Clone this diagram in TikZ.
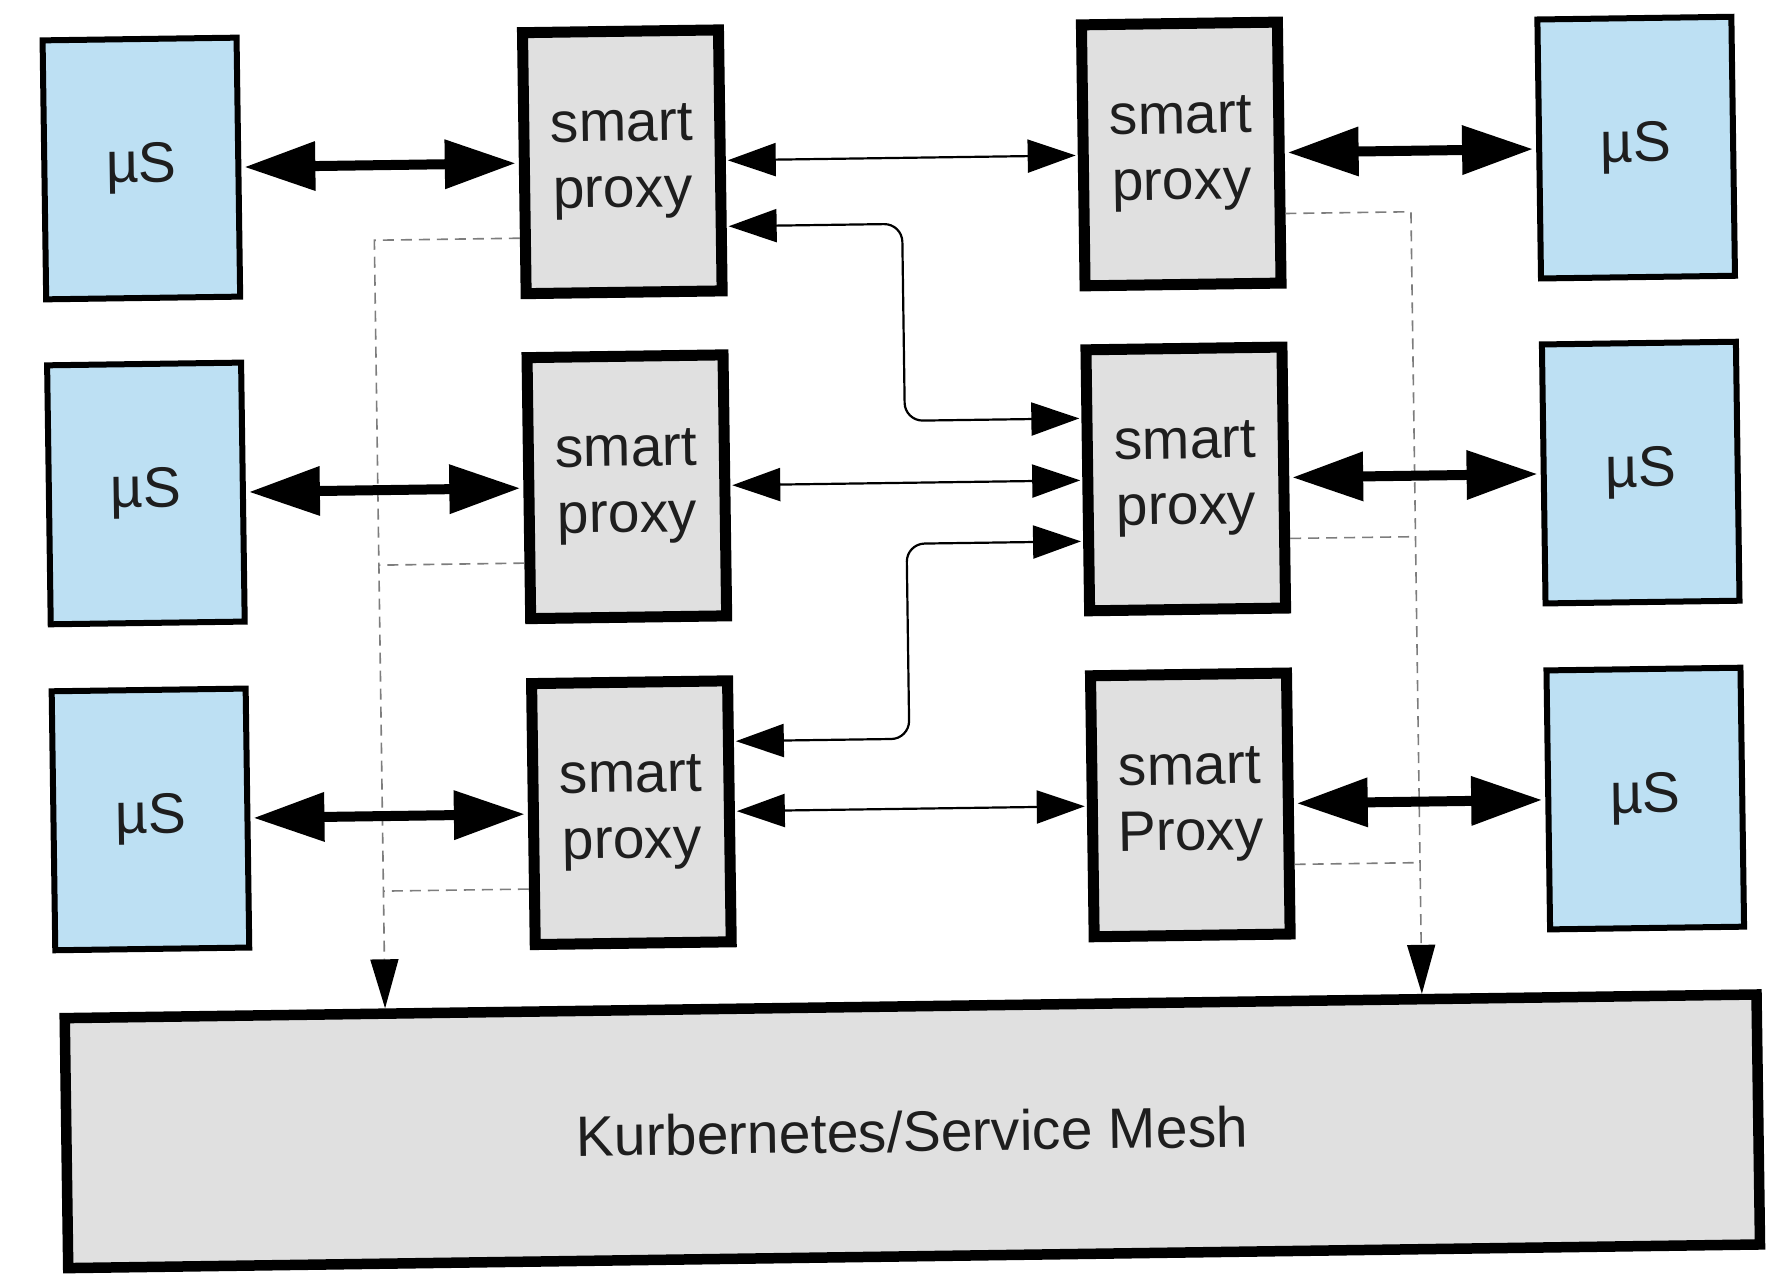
\documentclass[tikz,border=0pt]{standalone}
\usepackage{fontspec}
\setmainfont{Liberation Sans}
\usetikzlibrary{arrows.meta}
\definecolor{msblue}{RGB}{189,224,243}
\definecolor{pgray}{RGB}{224,224,224}
\definecolor{dgray}{RGB}{125,125,125}
\definecolor{txt}{RGB}{30,30,30}
\newcommand\bigfont{\fontsize{57pt}{66pt}\selectfont}
\begin{document}
\begin{tikzpicture}[x=1pt,y=-1pt,
  ms/.style={draw=black, line width=6pt, fill=msblue, minimum width=194pt, minimum height=259pt, inner sep=0pt, font=\bigfont, text=txt},
  proxy/.style={draw=black, line width=11pt, fill=pgray, minimum width=196pt, minimum height=261pt, inner sep=0pt, align=center, font=\bigfont, text=txt},
  meshbox/.style={draw=black, line width=10.5pt, fill=pgray, minimum width=1692pt, minimum height=250pt, inner sep=0pt, font=\bigfont, text=txt},
  thickarr/.style={line width=10pt, {Triangle[length=71pt,width=47pt]}-{Triangle[length=71pt,width=47pt]}, shorten <=3pt, shorten >=3pt},
  thinarr/.style={line width=2.2pt, {Triangle[length=48pt,width=33pt]}-{Triangle[length=48pt,width=33pt]}, rounded corners=18pt, shorten <=2pt, shorten >=2pt},
  dashline/.style={draw=dgray, line width=1.6pt, dash pattern=on 11pt off 7pt},
  dasharr/.style={dashline, -{Triangle[length=49pt,width=28pt,color=black]}}
]
\fill[white] (0,0) rectangle (1779,1274);
\useasboundingbox (0,0) rectangle (1779,1274);

\begin{scope}[rotate around={0.8:(895,640)}, transform shape]
% micro services left
\node[ms] (m11) at (148,158) {µS};
\node[ms] (m12) at (148,483) {µS};
\node[ms] (m13) at (148,809) {µS};
% micro services right
\node[ms] (m21) at (1643,158) {µS};
\node[ms] (m22) at (1643,483) {µS};
\node[ms] (m23) at (1643,809) {µS};
% proxies
\node[proxy] (p11) at (629,158) {smart\\proxy};
\node[proxy] (p12) at (629,483) {smart\\proxy};
\node[proxy] (p13) at (629,809) {smart\\proxy};
\node[proxy] (p21) at (1188,158) {smart\\proxy};
\node[proxy] (p22) at (1188,483) {smart\\proxy};
\node[proxy] (p23) at (1188,809) {smart\\Proxy};
% mesh
\node[meshbox] (mesh) at (905.5,1131.5) {Kurbernetes/Service Mesh};

% dashed lines to the mesh (points on the proxy edges and on the mesh top)
\coordinate (l1) at (525.5,233);
\coordinate (l2) at (525.5,558);
\coordinate (l3) at (525.5,884);
\coordinate (lc1) at (380,233);
\coordinate (lc2) at (380,558);
\coordinate (lc3) at (380,884);
\coordinate (lb) at (380,1001.25);
\coordinate (r1) at (1291.5,219);
\coordinate (r2) at (1291.5,544);
\coordinate (r3) at (1291.5,870);
\coordinate (rc1) at (1417,219);
\coordinate (rc2) at (1417,544);
\coordinate (rc3) at (1417,870);
\coordinate (rb) at (1417,1001.25);
\draw[dasharr] (l1) -- (lc1) -- (lb);
\draw[dashline] (l2) -- (lc2);
\draw[dashline] (l3) -- (lc3);
\draw[dasharr] (r1) -- (rc1) -- (rb);
\draw[dashline] (r2) -- (rc2);
\draw[dashline] (r3) -- (rc3);

% thick arrows
\draw[thickarr] (m11.east) -- (p11.west);
\draw[thickarr] (m12.east) -- (p12.west);
\draw[thickarr] (m13.east) -- (p13.west);
\draw[thickarr] (p21.east) -- (m21.west);
\draw[thickarr] (p22.east) -- (m22.west);
\draw[thickarr] (p23.east) -- (m23.west);

% thin arrows between proxies
\coordinate (s1) at (732.5,224);
\coordinate (k1a) at (908,224);
\coordinate (k1b) at (908,421);
\coordinate (e1) at (1084.5,421);
\coordinate (s3) at (732.5,739);
\coordinate (k3a) at (908,739);
\coordinate (k3b) at (908,544);
\coordinate (e3) at (1084.5,544);
\draw[thinarr] (p11.east) -- (p21.west);
\draw[thinarr] (p12.east) -- (p22.west);
\draw[thinarr] (p13.east) -- (p23.west);
\draw[thinarr] (s1) -- (k1a) -- (k1b) -- (e1);
\draw[thinarr] (s3) -- (k3a) -- (k3b) -- (e3);
\end{scope}
\end{tikzpicture}
\end{document}
